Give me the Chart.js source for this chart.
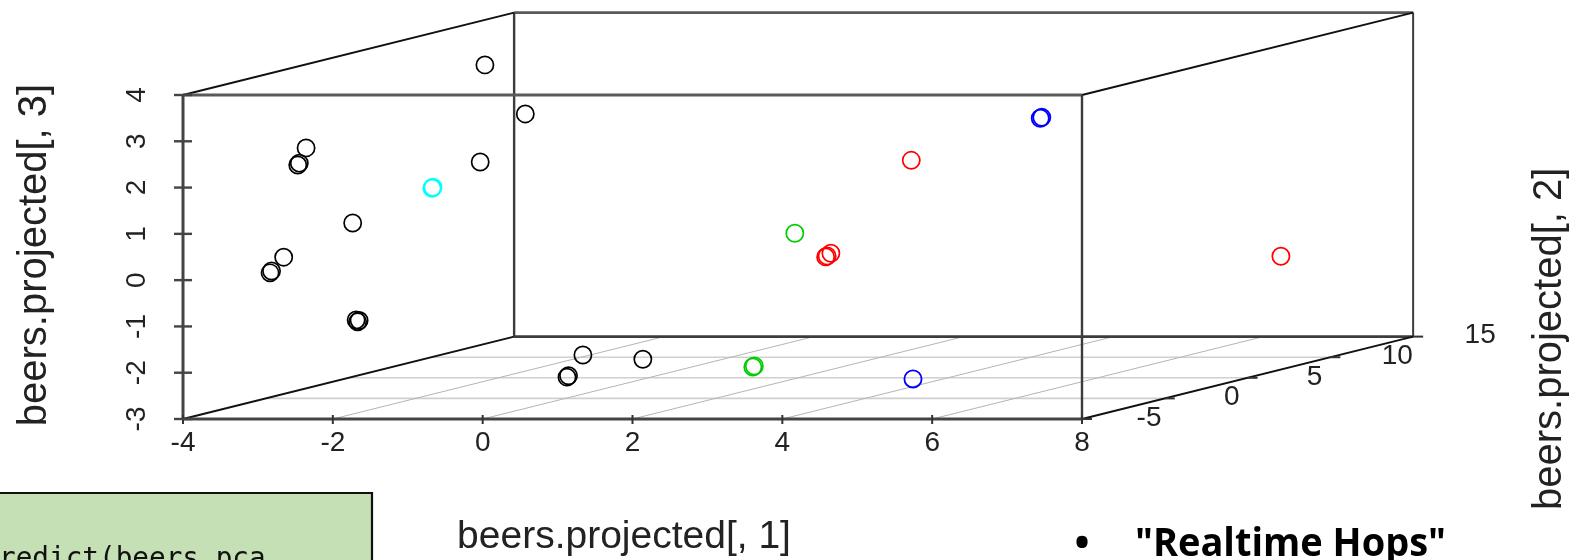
<!DOCTYPE html>
<html>
<head>
<meta charset="utf-8">
<style>
html,body{margin:0;padding:0;background:#fff;}
#wrap{position:relative;width:1589px;height:560px;}
</style>
<script src="https://cdn.jsdelivr.net/npm/chart.js@4.4.0/dist/chart.umd.min.js"></script>
</head>
<body>
<div id="wrap"><canvas id="c"></canvas></div>
<script>
// ---- axes / ticks ----
const xTicks = [-4, -2, 0, 2, 4, 6, 8];
const xTickLabels = ['-4', '-2', '0', '2', '4', '6', '8'];
const zTicks = [-3, -2, -1, 0, 1, 2, 3, 4];
const zTickLabels = ['-3', '-2', '-1', '0', '1', '2', '3', '4'];
const depthTicks = [-5, 0, 5, 10, 15];
const depthTickLabels = ['-5', '0', '5', '10', '15'];
const xTitle = 'beers.projected[, 1]';
const depthTitle = 'beers.projected[, 2]';
const zTitle = 'beers.projected[, 3]';
const codeText = 'redict(beers.pca';
const bulletText = '"Realtime Hops"';

// ---- series (x = PC1, depth = PC2, z = PC3) ----
const blackX = [-2.18, -1.42, -1.58, -3.02, -2.89, -2.91, -2.84, -3.54, -3.28, -3.26, -1.89, -1.87, -1.91, -0.43, 0.37, -0.20, -0.18];
const blackD = [5, 4, 2, -2, -3, -3, 0, -1, -3, -3, -4, -4, -4, 3, 3, 1, 1];
const blackZ = [3.76, 2.79, 1.93, 2.59, 2.35, 2.31, 0.79, 0.14, -0.02, 0.02, -0.99, -0.96, -0.95, -2.33, -2.42, -2.63, -2.60];

const cyanX = [-1.78, -1.77];
const cyanD = [0, 0];
const cyanZ = [1.54, 1.56];

const redX = [3.29, 2.83, 2.81, 2.88, 7.34];
const redD = [6, 3, 3, 3, 10];
const redZ = [1.61, -0.19, -0.21, -0.13, -0.82];

const greenX = [2.62, 2.28, 2.30];
const greenD = [2, 1, 1];
const greenZ = [0.39, -2.41, -2.39];

const blueX = [4.57, 4.59, 4.86];
const blueD = [8, 8, -1];
const blueZ = [2.34, 2.36, -2.49];

// ---- oblique projection (scatterplot3d style) ----
const X_RANGE = [-4, 8], Z_RANGE = [-3, 4], D_RANGE = [-5, 15];
const DEPTH_SHIFT_X = 4.42;   // x-units the back face is shifted right
const DEPTH_SHIFT_Z = 1.78;   // z-units the back face is shifted up
function project(x, d, z) {
  const t = (d - D_RANGE[0]) / (D_RANGE[1] - D_RANGE[0]);
  return { x: x + t * DEPTH_SHIFT_X, y: z + t * DEPTH_SHIFT_Z };
}
function series(xs, ds, zs) { return xs.map((v, i) => project(v, ds[i], zs[i])); }

// layout: where the front face of the box sits on the 1589x560 canvas
const CANVAS_W = 1589, CANVAS_H = 560;
const BOX = { left: 183, right: 1082, top: 95, bottom: 419 };
const xPPU = (BOX.right - BOX.left) / (X_RANGE[1] - X_RANGE[0]);
const zPPU = (BOX.bottom - BOX.top) / (Z_RANGE[1] - Z_RANGE[0]);
const xMin = X_RANGE[0] - BOX.left / xPPU, xMax = xMin + CANVAS_W / xPPU;
const zMax = Z_RANGE[1] + BOX.top / zPPU, zMin = zMax - CANVAS_H / zPPU;

const mk = (label, data, color, bw) => ({
  label, data, clip: false,
  pointStyle: 'circle', pointRadius: 8.6, pointHoverRadius: 8.6,
  borderColor: color, backgroundColor: 'rgba(0,0,0,0)', borderWidth: bw, pointBorderWidth: bw
});

const FONT = '"Liberation Sans", Arial, sans-serif';

const frame3d = {
  id: 'frame3d',
  beforeDatasetsDraw(chart) {
    const { ctx } = chart;
    const sx = chart.scales.x, sy = chart.scales.y;
    const P = (x, d, z) => { const p = project(x, d, z); return [sx.getPixelForValue(p.x), sy.getPixelForValue(p.y)]; };
    const line = (a, b, color, w) => {
      ctx.beginPath(); ctx.moveTo(a[0], a[1]); ctx.lineTo(b[0], b[1]);
      ctx.strokeStyle = color; ctx.lineWidth = w; ctx.stroke();
    };
    const [x0, x1] = X_RANGE, [z0, z1] = Z_RANGE, [d0, d1] = D_RANGE;
    ctx.save();
    ctx.lineCap = 'butt';
    // floor grid
    depthTicks.forEach(d => { if (d > d0 && d < d1) line(P(x0, d, z0), P(x1, d, z0), '#d0d0d0', 1.6); });
    xTicks.forEach(x => { if (x > x0 && x < x1) line(P(x, d0, z0), P(x, d1, z0), '#b4b4b4', 1); });
    // back face
    const edge = '#3c3c3c';
    line(P(x0, d1, z0), P(x1, d1, z0), edge, 2.6);
    line(P(x0, d1, z1), P(x1, d1, z1), '#5a5a5a', 2.8);
    line(P(x0, d1, z0), P(x0, d1, z1), edge, 2.4);
    line(P(x1, d1, z0), P(x1, d1, z1), edge, 2);
    // connectors
    line(P(x0, d0, z0), P(x0, d1, z0), '#111', 2);
    line(P(x0, d0, z1), P(x0, d1, z1), '#111', 2);
    line(P(x1, d0, z1), P(x1, d1, z1), '#111', 2);
    line(P(x1, d0, z0), P(x1, d1, z0), '#111', 2);
    // front face
    line(P(x0, d0, z1), P(x1, d0, z1), '#5a5a5a', 2.8);
    line(P(x1, d0, z0), P(x1, d0, z1), edge, 2.4);
    line(P(x0, d0, z0), P(x0, d0, z1), '#444', 3);
    line(P(x0, d0, z0), P(x1, d0, z0), '#444', 3);
    // ticks
    xTicks.forEach(x => { const p = P(x, d0, z0); line([p[0], p[1] - 4], [p[0], p[1] + 5], '#333', 2); });
    zTicks.forEach(z => { const p = P(x0, d0, z); line([p[0] - 9, p[1]], [p[0] + 9, p[1]], '#444', 2.4); });
    depthTicks.forEach(d => { const p = P(x1, d, z0); line(p, [p[0] + 10, p[1]], '#333', 2); });

    // tick labels
    ctx.fillStyle = '#222';
    ctx.font = '28px ' + FONT;
    ctx.textAlign = 'center'; ctx.textBaseline = 'alphabetic';
    xTicks.forEach((x, i) => { const p = P(x, d0, z0); ctx.fillText(xTickLabels[i], p[0], 451); });
    zTicks.forEach((z, i) => {
      const p = P(x0, d0, z);
      ctx.save(); ctx.translate(145, p[1]); ctx.rotate(-Math.PI / 2);
      ctx.fillText(zTickLabels[i], 0, 0); ctx.restore();
    });
    ctx.textBaseline = 'middle';
    depthTicks.forEach((d, i) => { const p = P(x1, d, z0); ctx.fillText(depthTickLabels[i], p[0] + 67, p[1] - 1); });

    // axis titles
    ctx.textBaseline = 'alphabetic';
    ctx.font = '39px ' + FONT;
    ctx.textAlign = 'center';
    ctx.fillText(xTitle, 624, 548);
    ctx.font = '40px ' + FONT;
    ctx.save(); ctx.translate(46, 255); ctx.rotate(-Math.PI / 2); ctx.fillText(zTitle, 0, 0); ctx.restore();
    ctx.save(); ctx.translate(1561, 510); ctx.rotate(-Math.PI / 2); ctx.textAlign = 'left'; ctx.fillText(depthTitle, 0, 0); ctx.restore();

    // slide remnants: green code box and bullet text
    ctx.fillStyle = '#c5e0b4';
    ctx.fillRect(0, 493, 372, 80);
    ctx.strokeStyle = '#111'; ctx.lineWidth = 2.2;
    ctx.beginPath(); ctx.moveTo(0, 493); ctx.lineTo(372, 493); ctx.lineTo(372, 565); ctx.stroke();
    ctx.fillStyle = '#111';
    ctx.font = '27.7px "DejaVu Sans Mono", "Liberation Mono", monospace';
    ctx.textAlign = 'left';
    ctx.fillText(codeText, -1, 567);

    ctx.fillStyle = '#000';
    ctx.font = 'bold 40px "Open Sans", sans-serif';
    ctx.textAlign = 'center';
    ctx.fillText('\u2022', 1082, 556);
    ctx.textAlign = 'left';
    const w = ctx.measureText(bulletText).width;
    ctx.save(); ctx.translate(1135, 556); ctx.scale(311 / w, 1); ctx.fillText(bulletText, 0, 0); ctx.restore();
    ctx.restore();
  }
};

new Chart(document.getElementById('c'), {
  type: 'scatter',
  data: {
    datasets: [
      mk('black', series(blackX, blackD, blackZ), '#000000', 1.7),
      mk('cyan', series(cyanX, cyanD, cyanZ), '#00ffff', 1.9),
      mk('red', series(redX, redD, redZ), '#ff0000', 1.7),
      mk('green', series(greenX, greenD, greenZ), '#00cd00', 1.7),
      mk('blue', series(blueX, blueD, blueZ), '#0000ff', 1.8)
    ]
  },
  options: {
    responsive: true, maintainAspectRatio: false, animation: false, events: [],
    layout: { padding: 0, autoPadding: false },
    scales: {
      x: { type: 'linear', min: xMin, max: xMax, display: false },
      y: { type: 'linear', min: zMin, max: zMax, display: false }
    },
    plugins: { legend: { display: false }, tooltip: { enabled: false } }
  },
  plugins: [frame3d]
});
</script>
</body>
</html>
